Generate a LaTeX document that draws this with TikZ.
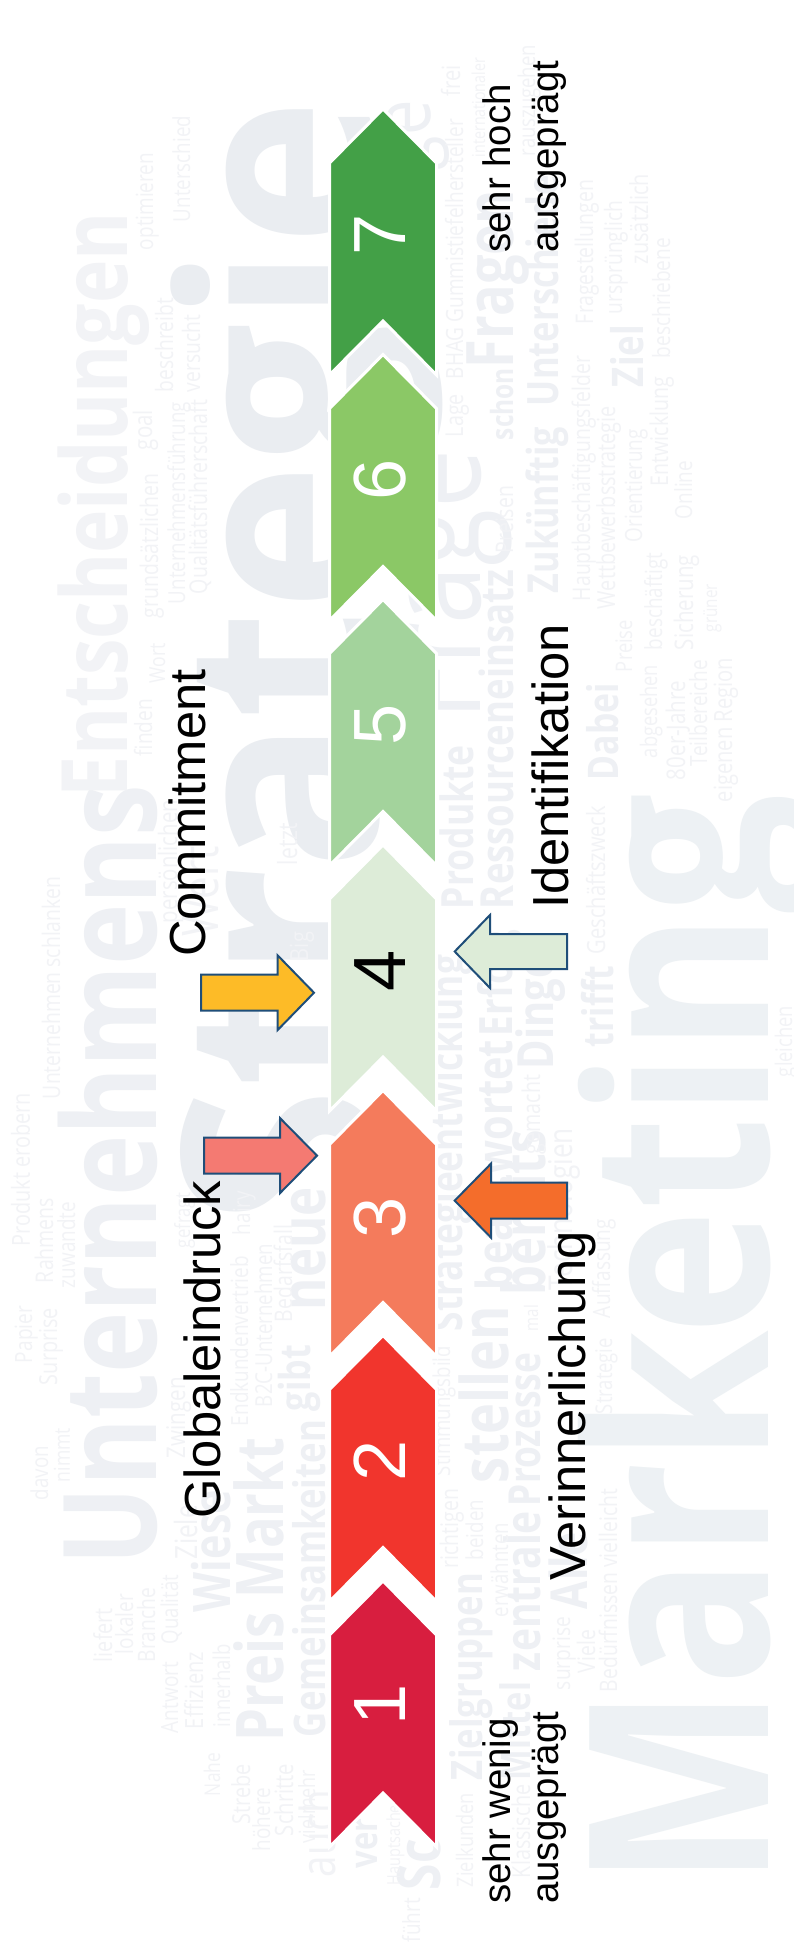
\documentclass[tikz,border=0pt]{standalone}
\usepackage{fontspec}
\setmainfont{Liberation Sans}
\newfontfamily\cloudfont{Open Sans}
\definecolor{cloudA}{HTML}{EAEDF1}
\definecolor{cloudM}{HTML}{EDF1F4}
\definecolor{cloudB}{HTML}{EEF0F4}
\definecolor{cloudC}{HTML}{F2F3F6}
\definecolor{cv1}{HTML}{D81E3F}
\definecolor{cv2}{HTML}{F1352D}
\definecolor{cv3}{HTML}{F47B5C}
\definecolor{cv4}{HTML}{DDECD8}
\definecolor{cv5}{HTML}{A3D39C}
\definecolor{cv6}{HTML}{8BC866}
\definecolor{cv7}{HTML}{43A047}
\definecolor{arrline}{HTML}{1F4E79}
\definecolor{arrgold}{HTML}{FDBB27}
\definecolor{arrrose}{HTML}{F47A72}
\definecolor{arrorange}{HTML}{F46D2B}
\newcounter{wc}
\newcommand{\cloudstretch}{1.25}
% optional colour, baseline x, y of word start (bottom), y of word end (top), text
\newcommand{\W}[5][cloudC]{%
  \stepcounter{wc}%
  \pgfmathsetmacro\wl{#3-#4}%
  \node[cloudword,text=#1] (w\thewc) at (#2,#3) {\scalebox{1}[\cloudstretch]{\resizebox{\wl pt}{!}{#5}}};}
\newcommand{\B}[1]{\bfseries #1}
% name, tip y, fill colour
\newcommand{\chev}[3]{%
  \path[chevronshape,fill=#3] (383,#2-2.5) -- (436.5,#2+51.5) -- (436.5,#2+263.5) -- (383,#2+209.5)
    -- (329.5,#2+263.5) -- (329.5,#2+51.5) -- cycle;
  \coordinate (#1) at (383,#2);}
% block arrow: tail x, head base x, tip x, centre y, shaft half, head half
\newcommand{\blockarrow}[7]{%
  \path[blockarrowshape,fill=#7] (#1,#4-#5) -- (#2,#4-#5) -- (#2,#4-#6) -- (#3,#4) -- (#2,#4+#6) -- (#2,#4+#5) -- (#1,#4+#5) -- cycle;}
\tikzset{
  cloudword/.style={rotate=90,anchor=base west,inner sep=0pt,outer sep=0pt,font=\cloudfont\fontsize{20}{24}\selectfont},
  chevronshape/.style={draw=white,line width=3pt,miter limit=10},
  blockarrowshape/.style={draw=arrline,line width=2pt,line join=miter},
  digit/.style={rotate=90,anchor=base,inner sep=0pt,font=\fontsize{74}{80}\selectfont},
  biglabel/.style={rotate=90,anchor=base west,inner sep=0pt,font=\fontsize{50.7}{56}\selectfont},
  endlabel/.style={rotate=90,anchor=north west,inner sep=0pt,align=left,font=\fontsize{38.4}{48}\selectfont}
}
\begin{document}
\begin{tikzpicture}[x=1pt,y=-1pt]
\useasboundingbox (0,0) rectangle (794,1952);
\fill[white] (0,0) rectangle (794,1952);
\begin{scope}
\clip (0,0) rectangle (794,1952);
% big words
\renewcommand{\cloudstretch}{1.18}
\W[cloudM]{768}{1887}{794}{\B{Marketing}}
\renewcommand{\cloudstretch}{1.09}
\W[cloudA]{377}{1225}{100}{\B{Strategie}}
\renewcommand{\cloudstretch}{1.25}
\W[cloudB]{156}{1565}{785}{\B{Unternehmens}}
\W[cloudC]{127}{797}{212}{\B{Entscheidungen}}
\W[cloudB]{480}{720}{450}{Frage}
\W[cloudB]{283}{1741}{1438}{\B{Preis Markt}}
\W[cloudB]{325}{1737}{1420}{\B{Gemeinsamkeiten}}
\W[cloudB]{310}{1411}{1345}{\B{gibt}}
\W[cloudB]{230}{1612}{1490}{\B{Wiese}}
\W[cloudB]{325}{1310}{1187}{\B{neue}}
\W[cloudB]{508}{1483}{1306}{\B{stellen}}
\W[cloudB]{540}{1506}{1353}{\B{Prozesse}}
\W[cloudB]{540}{1671}{1511}{\B{zentrale}}
\W[cloudB]{482}{1780}{1573}{\B{Zielgruppen}}
\W[cloudB]{462}{1331}{955}{\B{Strategieentwicklung}}
\W[cloudB]{473}{909}{745}{\B{Produkte}}
\W[cloudB]{513}{909}{570}{\B{Ressourceneinsatz}}
\W[cloudB]{512}{1290}{1040}{\B{beantwortet}}
\W[cloudB]{512}{1036}{930}{\B{Erfolg}}
\W[cloudB]{553}{1069}{955}{\B{Dinge}}
\W[cloudB]{545}{1295}{1130}{\B{bereits}}
\W[cloudB]{513}{440}{368}{\B{schon}}
\W[cloudB]{513}{368}{190}{\B{Fragen}}
\W[cloudB]{558}{593}{427}{\B{Zukünftig}}
\W[cloudB]{558}{406}{175}{\B{Unterschiede}}
\W[cloudB]{643}{387}{325}{\B{Ziel}}
\W[cloudB]{618}{780}{683}{\B{Dabei}}
\W[cloudB]{613}{1047}{966}{\B{trifft}}
\W[cloudB]{587}{1609}{1532}{\B{Alle}}
\W[cloudB]{530}{1780}{1682}{\B{Mittel}}
\W[cloudB]{440}{1890}{1839}{\B{Sc}}
\W[cloudB]{377}{1868}{1818}{\B{ver}}
\W[cloudB]{430}{170}{100}{ge}
% small words, left of the band
\W{112}{1662}{1608}{liefert}
\W{133}{1654}{1594}{lokaler}
\W{155}{1662}{1588}{Branche}
\W{178}{1644}{1575}{Qualität}
\W{178}{1733}{1662}{Antwort}
\W{203}{1729}{1652}{Effizienz}
\W{230}{1727}{1644}{innerhalb}
\W{220}{1796}{1753}{Nahe}
\W{250}{1824}{1764}{Strebe}
\W{270}{1851}{1788}{höhere}
\W{293}{1836}{1764}{Schritte}
\W{315}{1843}{1770}{vielmehr}
\W{335}{1877}{1790}{auch}
\W{197}{1559}{1505}{Ziele}
\W{185}{1458}{1377}{Zwingen}
\W{48}{1500}{1446}{davon}
\W{70}{1482}{1428}{nimmt}
\W{32}{1363}{1306}{Papier}
\W{57}{1385}{1308}{Surprise}
\W{60}{1099}{877}{Unternehmen schlanken}
\W{30}{1246}{1093}{Produkt erobern}
\W{53}{1283}{1198}{Rahmens}
\W{75}{1288}{1202}{zuwandte}
\W{190}{1248}{1193}{gefragt}
\W{250}{1235}{1191}{hairy}
\W{248}{1426}{1256}{Endkundenvertrieb}
\W{272}{1407}{1244}{B2C-Unternehmen}
\W{292}{1322}{1225}{Bedarfsfall}
\W{308}{961}{932}{Big}
\W{297}{865}{823}{letzt}
\W{152}{756}{699}{finden}
\W{165}{683}{643}{Wort}
\W{177}{923}{800}{persönlichen}
\W{218}{936}{846}{Wert}
\W{153}{250}{153}{optimieren}
\W{190}{222}{116}{Unterschied}
\W{173}{392}{298}{beschreibt}
\W{152}{450}{410}{goal}
\W{200}{392}{315}{versucht}
\W{158}{618}{474}{grundsätzlichen}
\W{185}{604}{402}{Unternehmensführung}
\W{207}{594}{400}{Qualitätsführerschaft}
% small words, right of the band
\W{463}{379}{119}{BHAG Gummistiefelhersteller}
\W{460}{96}{65}{frei}
\W{485}{157}{58}{internationaler}
\W{535}{156}{45}{rauszugehen}
\W{463}{437}{394}{Lage}
\W{513}{553}{486}{Preisen}
\W{593}{324}{180}{Fragestellungen}
\W{622}{314}{201}{ursprünglich}
\W{648}{264}{174}{zusätzlich}
\W{670}{358}{238}{beschriebene}
\W{590}{601}{356}{Hauptbeschäftigungsfelder}
\W{615}{609}{406}{Wettbewerbsstrategie}
\W{642}{542}{429}{Orientierung}
\W{668}{486}{377}{Entwicklung}
\W{692}{519}{461}{Online}
\W{662}{650}{553}{beschäftigt}
\W{693}{650}{555}{Sicherung}
\W{717}{632}{584}{grüner}
\W{632}{672}{620}{Preise}
\W{657}{758}{665}{abgesehen}
\W{685}{780}{681}{80er-Jahre}
\W{707}{766}{660}{Teilbereiche}
\W{732}{802}{658}{eigenen Region}
\W{605}{954}{806}{Geschäftszweck}
\W{792}{1077}{1006}{gleichen}
\W{540}{1154}{1075}{gemacht}
\W{572}{1290}{1128}{Technologien}
\W{538}{1331}{1305}{mal}
\W{508}{1617}{1523}{erwähnten}
\W{483}{1560}{1500}{beiden}
\W{458}{1568}{1489}{richtigen}
\W{450}{1476}{1346}{Stimmungsbild}
\W{570}{1690}{1617}{surprise}
\W{595}{1673}{1630}{Viele}
\W{617}{1692}{1489}{Bedürfnissen vielleicht}
\W{612}{1414}{1338}{Strategie}
\W{610}{1318}{1219}{Auffassung}
\W{473}{1887}{1793}{Zielkunden}
\W{530}{1878}{1784}{Klassische}
\W{400}{1885}{1805}{Hauptsache}
\W{420}{1942}{1898}{führt}
\end{scope}
% chevrons
\chev{c1}{1583.5}{cv1}
\chev{c2}{1338}{cv2}
\chev{c3}{1093}{cv3}
\chev{c4}{847.5}{cv4}
\chev{c5}{602}{cv5}
\chev{c6}{357}{cv6}
\chev{c7}{111.5}{cv7}
% digits
\node[digit,text=white] (d7) at (405,235) {7};
\node[digit,text=white] (d6) at (405,480) {6};
\node[digit,text=white] (d5) at (405,725) {5};
\node[digit,text=black] (d4) at (405,971) {4};
\node[digit,text=white] (d3) at (405,1218) {3};
\node[digit,text=white] (d2) at (405,1461) {2};
\node[digit,text=white] (d1) at (405,1705) {1};
% block arrows
\blockarrow{201}{277.5}{314}{992.7}{18}{37.5}{arrgold}
\blockarrow{204}{280}{317}{1155.6}{18}{37.5}{arrrose}
\blockarrow{567}{490}{454.7}{951.5}{17.5}{36.5}{cv4}
\blockarrow{567}{491}{454.7}{1200.6}{18}{37}{arrorange}
% labels
\node[biglabel] (commit) at (205,957) {Commitment};
\node[biglabel] (global) at (220,1519) {Globaleindruck};
\node[biglabel] (ident) at (568,909) {Identifikation};
\node[biglabel] (verinn) at (585,1581) {Verinnerlichung};
\node[endlabel] (hoch) at (482,253) {sehr hoch\\ausgeprägt};
\node[endlabel] (wenig) at (482,1904) {sehr wenig\\ausgeprägt};
\end{tikzpicture}
\end{document}
